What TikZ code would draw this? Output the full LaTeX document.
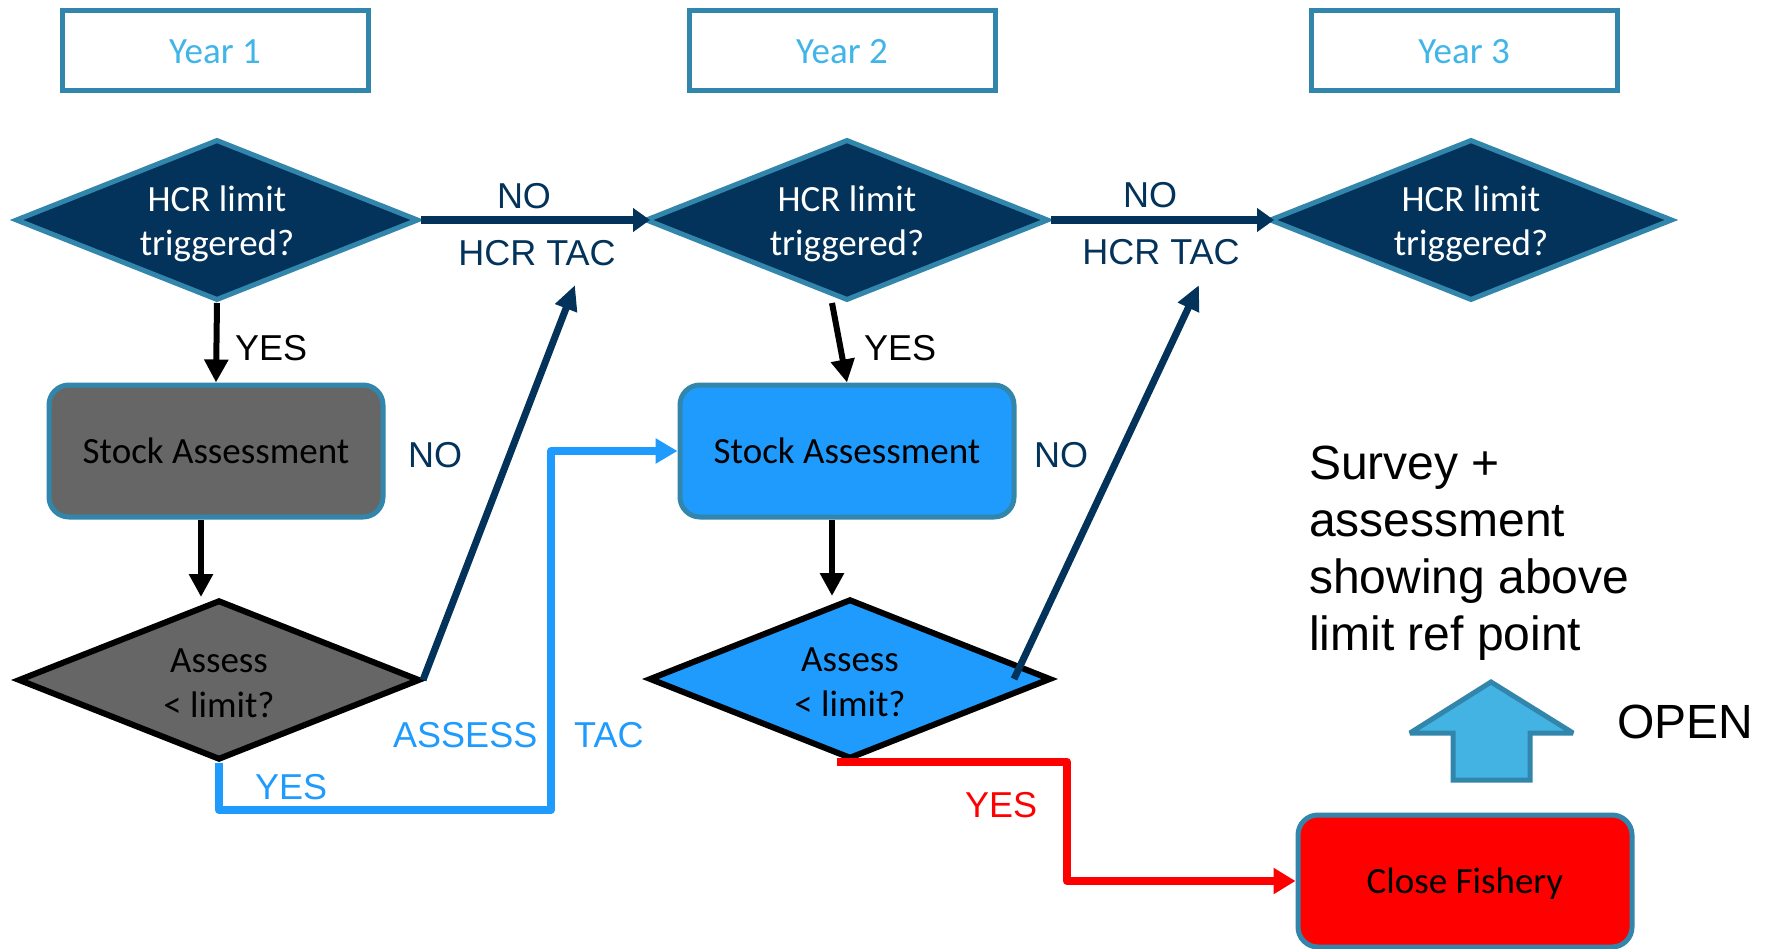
\documentclass[tikz,border=0pt]{standalone}
\usepackage{fontspec}
\setmainfont{Carlito}
\newfontfamily\arialf{Liberation Sans}
\usetikzlibrary{shapes.geometric,arrows.meta,calc}
\definecolor{navy}{HTML}{03335A}
\definecolor{tealb}{HTML}{3286AC}
\definecolor{yeartxt}{HTML}{41B5E8}
\definecolor{sagrey}{HTML}{666666}
\definecolor{sablue}{HTML}{1F9BFD}
\definecolor{upfill}{HTML}{43B3E3}
\begin{document}
\begin{tikzpicture}[x=1pt,y=-1pt,
  yearbox/.style={draw=tealb, line width=5pt, minimum width=306pt, minimum height=80pt, inner sep=0pt, text=yeartxt, text height=26pt, text depth=0pt, font=\fontsize{37}{44}\selectfont},
  hcr/.style={diamond, aspect=2.5, minimum width=403pt, minimum height=161pt, inner sep=0pt, fill=navy, draw=tealb, line width=5pt, text=white, align=center, font=\fontsize{37}{44}\selectfont},
  asd/.style={diamond, aspect=2.5, minimum width=402pt, minimum height=160pt, inner sep=0pt, draw=black, line width=6pt, text=black, align=center, font=\fontsize{37}{45}\selectfont},
  sabox/.style={rectangle, rounded corners=20pt, minimum width=334pt, minimum height=132pt, inner sep=0pt, draw=tealb, line width=5pt, text=black, text height=25pt, text depth=0pt, font=\fontsize{37}{44}\selectfont},
  lbl/.style={inner sep=0pt, font=\arialf\fontsize{36}{43}\selectfont},
  big/.style={inner sep=0pt, font=\arialf\fontsize{48}{57}\selectfont},
  navyh/.style={draw=navy, line width=8pt, -{Triangle[length=17pt,width=23pt]}},
  navys/.style={draw=navy, line width=7pt, -{Triangle[length=25pt,width=22pt]}},
  blk/.style={draw=black, line width=6pt, -{Triangle[length=23pt,width=23pt]}},
  bluel/.style={draw=sablue, line width=8pt, line join=round, -{Triangle[length=22pt,width=24pt]}},
  redl/.style={draw=red, line width=8pt, line join=round, -{Triangle[length=22pt,width=25pt]}}
]
\fill[white] (0,0) rectangle (1769,949);
\useasboundingbox (0,0) rectangle (1769,949);

% year boxes
\node[yearbox] (y1) at (215,51) {Year 1};
\node[yearbox] (y2) at (842,51) {Year 2};
\node[yearbox] (y3) at (1464,51) {Year 3};

% HCR diamonds
\node[hcr] (h1) at (217,220) {\rule{0pt}{34pt}HCR limit\\triggered?};
\node[hcr] (h2) at (847,220) {\rule{0pt}{34pt}HCR limit\\triggered?};
\node[hcr] (h3) at (1471,220) {\rule{0pt}{34pt}HCR limit\\triggered?};

% stock assessment boxes
\node[sabox, fill=sagrey] (sa1) at (216,451) {Stock Assessment};
\node[sabox, fill=sablue] (sa2) at (847,451) {Stock Assessment};

% assess diamonds
\node[asd, fill=sagrey] (as1) at (219,680) {\rule{0pt}{31pt}Assess\\< limit?};
\node[asd, fill=sablue] (as2) at (850,679) {\rule{0pt}{31pt}Assess\\< limit?};

% close fishery
\node[sabox, fill=red] (cf) at (1465,881) {Close Fishery};

% up arrow (OPEN)
\draw[fill=upfill, draw=tealb, line width=5pt, miter limit=2] (1491,682) -- (1573,733) -- (1530,733) -- (1530,780) -- (1453,780) -- (1453,733) -- (1410,733) -- cycle;

% coordinates
\coordinate (t1) at (575,285);
\coordinate (t2) at (1199,285);
\coordinate (bb) at (551,810);
\coordinate (rb) at (1067,820);

% connectors
\draw[navyh] (h1.east) -- ([xshift=7pt]h2.west);
\draw[navyh] (h2.east) -- ([xshift=7pt]h3.west);
\draw[blk] (h1.south) -- (sa1.north);
\draw[blk] ([xshift=-15pt]sa1.south) -- ([xshift=-18pt]as1.north);
\draw[blk] ([xshift=-15pt]h2.south) -- (sa2.north);
\draw[blk] ([xshift=-15pt]sa2.south) -- ([xshift=-18pt]as2.north);
\draw[navys] (as1.east) -- (t1);
\draw[navys] ([xshift=-40pt]as2.east) -- (t2);
\draw[bluel] (as1.south) |- (bb) |- (sa2.west);
\draw[redl] ([xshift=-13pt]as2.south) -| (rb) |- (cf.west);

% labels
\node[lbl, text=navy, anchor=base] (no1) at (524,209) {NO};
\node[lbl, text=navy, anchor=base] (tac1) at (537,266) {HCR TAC};
\node[lbl, text=navy, anchor=base] (no2) at (1150,208) {NO};
\node[lbl, text=navy, anchor=base] (tac2) at (1161,265) {HCR TAC};
\node[lbl, anchor=base west] (yes1) at (235,361) {YES};
\node[lbl, anchor=base west] (yes2) at (864,361) {YES};
\node[lbl, text=navy, anchor=base west] (no3) at (408,467) {NO};
\node[lbl, text=navy, anchor=base west] (no4) at (1034,467) {NO};
\node[lbl, text=sablue, anchor=base west] (assess) at (393,747) {ASSESS};
\node[lbl, text=sablue, anchor=base west] (tac3) at (574,747) {TAC};
\node[lbl, text=sablue, anchor=base west] (yes3) at (255,799) {YES};
\node[lbl, text=red, anchor=base west] (yes4) at (965,817) {YES};
\node[big, anchor=base west] (open) at (1617,738) {OPEN};
\node[big, anchor=north west, align=left] (survey) at (1309,446) {Survey +\\assessment\\showing above\\limit ref point};
\end{tikzpicture}
\end{document}
